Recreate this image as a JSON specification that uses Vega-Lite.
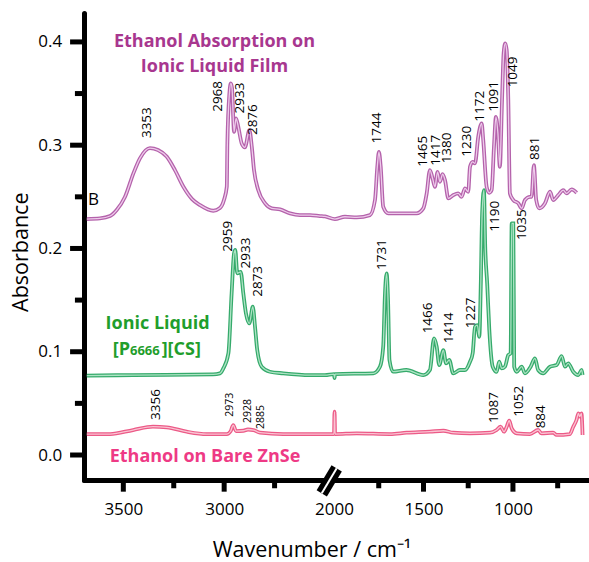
{
  "$schema": "https://vega.github.io/schema/vega-lite/v6.json",
  "width": 505,
  "height": 467,
  "autosize": {"type": "none"},
  "padding": {"left": 84, "top": 13, "right": 0, "bottom": 82},
  "background": "white",
  "config": {"view": {"stroke": null}},
  "datasets": {
    "spectra": [
      {"s":"film","wn":3681,"a":0.2285},{"s":"film","wn":3616,"a":0.2291},{"s":"film","wn":3566,"a":0.2314},{"s":"film","wn":3533,"a":0.2372},{"s":"film","wn":3492,"a":0.2498},{"s":"film","wn":3450,"a":0.2727},{"s":"film","wn":3417,"a":0.2875},{"s":"film","wn":3368,"a":0.2972},{"s":"film","wn":3328,"a":0.2953},{"s":"film","wn":3285,"a":0.2890},{"s":"film","wn":3244,"a":0.2759},{"s":"film","wn":3202,"a":0.2597},{"s":"film","wn":3159,"a":0.2478},{"s":"film","wn":3120,"a":0.2420},{"s":"film","wn":3054,"a":0.2365},{"s":"film","wn":3021,"a":0.2391},{"s":"film","wn":3001,"a":0.2469},{"s":"film","wn":2987,"a":0.2597},{"s":"film","wn":2984,"a":0.3020},{"s":"film","wn":2974,"a":0.3501},{"s":"film","wn":2967,"a":0.3598},{"s":"film","wn":2961,"a":0.3553},{"s":"film","wn":2951,"a":0.3130},{"s":"film","wn":2941,"a":0.3259},{"s":"film","wn":2930,"a":0.3178},{"s":"film","wn":2913,"a":0.3017},{"s":"film","wn":2897,"a":0.2979},{"s":"film","wn":2875,"a":0.3146},{"s":"film","wn":2863,"a":0.2985},{"s":"film","wn":2852,"a":0.2759},{"s":"film","wn":2831,"a":0.2565},{"s":"film","wn":2797,"a":0.2437},{"s":"film","wn":2764,"a":0.2388},{"s":"film","wn":2723,"a":0.2378},{"s":"film","wn":2673,"a":0.2339},{"s":"film","wn":2624,"a":0.2323},{"s":"film","wn":2574,"a":0.2323},{"s":"film","wn":2525,"a":0.2314},{"s":"film","wn":2500,"a":0.2310},{"s":"film","wn":1995,"a":0.2285},{"s":"film","wn":1939,"a":0.2307},{"s":"film","wn":1873,"a":0.2301},{"s":"film","wn":1799,"a":0.2323},{"s":"film","wn":1771,"a":0.2469},{"s":"film","wn":1758,"a":0.2791},{"s":"film","wn":1749,"a":0.2936},{"s":"film","wn":1739,"a":0.2791},{"s":"film","wn":1725,"a":0.2404},{"s":"film","wn":1697,"a":0.2340},{"s":"film","wn":1613,"a":0.2340},{"s":"film","wn":1538,"a":0.2340},{"s":"film","wn":1501,"a":0.2388},{"s":"film","wn":1482,"a":0.2533},{"s":"film","wn":1464,"a":0.2759},{"s":"film","wn":1449,"a":0.2678},{"s":"film","wn":1436,"a":0.2597},{"s":"film","wn":1421,"a":0.2742},{"s":"film","wn":1408,"a":0.2646},{"s":"film","wn":1393,"a":0.2720},{"s":"film","wn":1380,"a":0.2662},{"s":"film","wn":1361,"a":0.2485},{"s":"film","wn":1333,"a":0.2517},{"s":"film","wn":1306,"a":0.2533},{"s":"film","wn":1287,"a":0.2500},{"s":"film","wn":1268,"a":0.2582},{"s":"film","wn":1250,"a":0.2549},{"s":"film","wn":1240,"a":0.2791},{"s":"film","wn":1225,"a":0.2839},{"s":"film","wn":1212,"a":0.2824},{"s":"film","wn":1194,"a":0.3081},{"s":"film","wn":1175,"a":0.3211},{"s":"film","wn":1166,"a":0.3049},{"s":"film","wn":1147,"a":0.2597},{"s":"film","wn":1132,"a":0.2539},{"s":"film","wn":1119,"a":0.2565},{"s":"film","wn":1106,"a":0.2985},{"s":"film","wn":1095,"a":0.3275},{"s":"film","wn":1084,"a":0.3114},{"s":"film","wn":1073,"a":0.2791},{"s":"film","wn":1061,"a":0.3437},{"s":"film","wn":1052,"a":0.3889},{"s":"film","wn":1043,"a":0.3986},{"s":"film","wn":1035,"a":0.3921},{"s":"film","wn":1026,"a":0.3437},{"s":"film","wn":1017,"a":0.2533},{"s":"film","wn":998,"a":0.2469},{"s":"film","wn":970,"a":0.2437},{"s":"film","wn":951,"a":0.2388},{"s":"film","wn":933,"a":0.2469},{"s":"film","wn":905,"a":0.2500},{"s":"film","wn":896,"a":0.2500},{"s":"film","wn":883,"a":0.2807},{"s":"film","wn":870,"a":0.2469},{"s":"film","wn":853,"a":0.2388},{"s":"film","wn":821,"a":0.2437},{"s":"film","wn":793,"a":0.2549},{"s":"film","wn":775,"a":0.2469},{"s":"film","wn":747,"a":0.2517},{"s":"film","wn":719,"a":0.2565},{"s":"film","wn":700,"a":0.2533},{"s":"film","wn":672,"a":0.2572},{"s":"film","wn":644,"a":0.2539},
      {"s":"il","wn":3681,"a":0.0768},{"s":"il","wn":3452,"a":0.0774},{"s":"il","wn":3055,"a":0.0781},{"s":"il","wn":3021,"a":0.0791},{"s":"il","wn":3004,"a":0.0839},{"s":"il","wn":2979,"a":0.0985},{"s":"il","wn":2963,"a":0.1565},{"s":"il","wn":2951,"a":0.1953},{"s":"il","wn":2945,"a":0.1985},{"s":"il","wn":2935,"a":0.1759},{"s":"il","wn":2918,"a":0.1774},{"s":"il","wn":2905,"a":0.1565},{"s":"il","wn":2892,"a":0.1372},{"s":"il","wn":2875,"a":0.1275},{"s":"il","wn":2858,"a":0.1436},{"s":"il","wn":2847,"a":0.1242},{"s":"il","wn":2836,"a":0.1016},{"s":"il","wn":2814,"a":0.0855},{"s":"il","wn":2773,"a":0.0806},{"s":"il","wn":2707,"a":0.0791},{"s":"il","wn":2574,"a":0.0774},{"s":"il","wn":2500,"a":0.0774},{"s":"il","wn":2000,"a":0.0784},{"s":"il","wn":1997,"a":0.0745},{"s":"il","wn":1994,"a":0.0784},{"s":"il","wn":1780,"a":0.0791},{"s":"il","wn":1743,"a":0.0855},{"s":"il","wn":1725,"a":0.1048},{"s":"il","wn":1715,"a":0.1565},{"s":"il","wn":1706,"a":0.1759},{"s":"il","wn":1698,"a":0.1500},{"s":"il","wn":1690,"a":0.0920},{"s":"il","wn":1670,"a":0.0807},{"s":"il","wn":1596,"a":0.0823},{"s":"il","wn":1501,"a":0.0774},{"s":"il","wn":1464,"a":0.0823},{"s":"il","wn":1441,"a":0.1130},{"s":"il","wn":1426,"a":0.1048},{"s":"il","wn":1412,"a":0.0871},{"s":"il","wn":1389,"a":0.1016},{"s":"il","wn":1374,"a":0.0888},{"s":"il","wn":1356,"a":0.0920},{"s":"il","wn":1334,"a":0.0791},{"s":"il","wn":1296,"a":0.0823},{"s":"il","wn":1268,"a":0.0823},{"s":"il","wn":1240,"a":0.0903},{"s":"il","wn":1225,"a":0.0985},{"s":"il","wn":1212,"a":0.1242},{"s":"il","wn":1199,"a":0.1258},{"s":"il","wn":1188,"a":0.1145},{"s":"il","wn":1180,"a":0.1629},{"s":"il","wn":1172,"a":0.2340},{"s":"il","wn":1162,"a":0.2565},{"s":"il","wn":1155,"a":0.2016},{"s":"il","wn":1144,"a":0.1662},{"s":"il","wn":1132,"a":0.1210},{"s":"il","wn":1113,"a":0.0855},{"s":"il","wn":1091,"a":0.0806},{"s":"il","wn":1077,"a":0.0903},{"s":"il","wn":1063,"a":0.0839},{"s":"il","wn":1045,"a":0.0855},{"s":"il","wn":1026,"a":0.0968},{"s":"il","wn":1013,"a":0.0985},{"s":"il","wn":1007,"a":0.2243},{"s":"il","wn":998,"a":0.2243},{"s":"il","wn":993,"a":0.0855},{"s":"il","wn":979,"a":0.0806},{"s":"il","wn":951,"a":0.0855},{"s":"il","wn":933,"a":0.0791},{"s":"il","wn":901,"a":0.0855},{"s":"il","wn":877,"a":0.0936},{"s":"il","wn":859,"a":0.0823},{"s":"il","wn":831,"a":0.0791},{"s":"il","wn":793,"a":0.0855},{"s":"il","wn":756,"a":0.0871},{"s":"il","wn":728,"a":0.0958},{"s":"il","wn":709,"a":0.0855},{"s":"il","wn":691,"a":0.0888},{"s":"il","wn":663,"a":0.0806},{"s":"il","wn":635,"a":0.0774},{"s":"il","wn":616,"a":0.0823},{"s":"il","wn":611,"a":0.0774},
      {"s":"bare","wn":3681,"a":0.0203},{"s":"bare","wn":3566,"a":0.0203},{"s":"bare","wn":3452,"a":0.0242},{"s":"bare","wn":3353,"a":0.0274},{"s":"bare","wn":3285,"a":0.0268},{"s":"bare","wn":3186,"a":0.0226},{"s":"bare","wn":3087,"a":0.0203},{"s":"bare","wn":2987,"a":0.0203},{"s":"bare","wn":2968,"a":0.0230},{"s":"bare","wn":2955,"a":0.0290},{"s":"bare","wn":2941,"a":0.0232},{"s":"bare","wn":2905,"a":0.0235},{"s":"bare","wn":2882,"a":0.0247},{"s":"bare","wn":2855,"a":0.0242},{"s":"bare","wn":2822,"a":0.0216},{"s":"bare","wn":2707,"a":0.0203},{"s":"bare","wn":2574,"a":0.0203},{"s":"bare","wn":2500,"a":0.0203},{"s":"bare","wn":2000,"a":0.0203},{"s":"bare","wn":1997,"a":0.0420},{"s":"bare","wn":1994,"a":0.0203},{"s":"bare","wn":1873,"a":0.0210},{"s":"bare","wn":1687,"a":0.0203},{"s":"bare","wn":1594,"a":0.0216},{"s":"bare","wn":1464,"a":0.0226},{"s":"bare","wn":1389,"a":0.0235},{"s":"bare","wn":1334,"a":0.0216},{"s":"bare","wn":1240,"a":0.0210},{"s":"bare","wn":1128,"a":0.0216},{"s":"bare","wn":1091,"a":0.0242},{"s":"bare","wn":1069,"a":0.0274},{"s":"bare","wn":1050,"a":0.0226},{"s":"bare","wn":1035,"a":0.0274},{"s":"bare","wn":1021,"a":0.0332},{"s":"bare","wn":1007,"a":0.0258},{"s":"bare","wn":979,"a":0.0210},{"s":"bare","wn":905,"a":0.0203},{"s":"bare","wn":859,"a":0.0242},{"s":"bare","wn":841,"a":0.0210},{"s":"bare","wn":775,"a":0.0216},{"s":"bare","wn":756,"a":0.0194},{"s":"bare","wn":682,"a":0.0203},{"s":"bare","wn":663,"a":0.0274},{"s":"bare","wn":645,"a":0.0339},{"s":"bare","wn":634,"a":0.0404},{"s":"bare","wn":627,"a":0.0371},{"s":"bare","wn":617,"a":0.0404},{"s":"bare","wn":611,"a":0.0194}
    ],
    "peaks": [
      {"wn":3384,"a":0.3069,"t":"3353"},{"wn":3029,"a":0.3323,"t":"2968"},{"wn":2921,"a":0.3308,"t":"2933"},{"wn":2857,"a":0.3098,"t":"2876"},
      {"wn":1758,"a":0.3017,"t":"1744"},{"wn":1501,"a":0.2791,"t":"1465"},{"wn":1432,"a":0.2801,"t":"1417"},{"wn":1370,"a":0.2824,"t":"1380"},{"wn":1259,"a":0.2888,"t":"1230"},{"wn":1184,"a":0.3227,"t":"1172"},{"wn":1106,"a":0.3323,"t":"1091"},{"wn":1002,"a":0.3560,"t":"1049"},{"wn":877,"a":0.2856,"t":"881"},
      {"wn":2979,"a":0.1968,"t":"2959"},{"wn":2892,"a":0.1807,"t":"2933"},{"wn":2831,"a":0.1532,"t":"2873"},{"wn":1734,"a":0.1791,"t":"1731"},{"wn":1473,"a":0.1178,"t":"1466"},{"wn":1356,"a":0.1081,"t":"1414"},{"wn":1235,"a":0.1227,"t":"1227"},{"wn":1099,"a":0.2162,"t":"1190"},{"wn":951,"a":0.2081,"t":"1035"},
      {"wn":3339,"a":0.0339,"t":"3356"},{"wn":1106,"a":0.0310,"t":"1087"},{"wn":965,"a":0.0371,"t":"1052"},{"wn":845,"a":0.0258,"t":"884"}
    ],
    "peaksSmall": [
      {"wn":2971,"a":0.0371,"t":"2973"},{"wn":2882,"a":0.0310,"t":"2928"},{"wn":2817,"a":0.0252,"t":"2885"}
    ],
    "brk": [{"wn":2516,"wn2":1985,"a":-0.0371,"a2":-0.0129}],
    "ticks": [
      {"wn":3500,"wn2":3500,"a":-0.0242,"a2":-0.0355},
      {"wn":3000,"wn2":3000,"a":-0.0242,"a2":-0.0355},
      {"wn":1500,"wn2":1500,"a":-0.0242,"a2":-0.0355},
      {"wn":1000,"wn2":1000,"a":-0.0242,"a2":-0.0355},
      {"wn":3250,"wn2":3250,"a":-0.0242,"a2":-0.0322},
      {"wn":2750,"wn2":2750,"a":-0.0242,"a2":-0.0322},
      {"wn":1750,"wn2":1750,"a":-0.0242,"a2":-0.0322},
      {"wn":1250,"wn2":1250,"a":-0.0242,"a2":-0.0322},
      {"wn":750,"wn2":750,"a":-0.0242,"a2":-0.0322},
      {"wn":3695,"wn2":3764,"a":0,"a2":0},
      {"wn":3695,"wn2":3764,"a":0.1,"a2":0.1},
      {"wn":3695,"wn2":3764,"a":0.2,"a2":0.2},
      {"wn":3695,"wn2":3764,"a":0.3,"a2":0.3},
      {"wn":3695,"wn2":3764,"a":0.4,"a2":0.4},
      {"wn":3695,"wn2":3740,"a":0.05,"a2":0.05},
      {"wn":3695,"wn2":3740,"a":0.15,"a2":0.15},
      {"wn":3695,"wn2":3740,"a":0.25,"a2":0.25},
      {"wn":3695,"wn2":3740,"a":0.35,"a2":0.35}
    ]
  },
  "encoding": {
    "x": {
      "field": "wn", "type": "quantitative",
      "scale": {"domain": [3695, 2500, 2000, 575], "range": [0, 241, 250, 505], "nice": false, "zero": false},
      "axis": {
        "values": [3500, 3000, 2000, 1500, 1000],
        "labelExpr": "'' + datum.value",
        "ticks": true, "tickSize": 9, "tickColor": "transparent",
        "domainWidth": 5, "domainColor": "black", "domainCap": "round",
        "labelFont": "Open Sans", "labelFontSize": 17, "labelColor": "black", "labelPadding": 12,
        "labelFlush": false, "labelOverlap": false, "grid": false,
        "title": "Wavenumber / cm⁻¹", "titleFont": "Open Sans", "titleFontSize": 21.5, "titleFontWeight": "normal", "titleColor": "black",
        "titleX": 227.5, "titleY": 76.7, "titleBaseline": "alphabetic", "titleAlign": "center"
      }
    },
    "y": {
      "field": "a", "type": "quantitative",
      "scale": {"domain": [-0.0242, 0.428], "nice": false, "zero": false},
      "axis": {
        "values": [0, 0.1, 0.2, 0.3, 0.4],
        "format": ".1f",
        "ticks": true, "tickSize": 11.5, "tickColor": "transparent",
        "domainWidth": 5, "domainColor": "black", "domainCap": "round",
        "labelFont": "Open Sans", "labelFontSize": 17, "labelColor": "black", "labelPadding": 10.8,
        "labelFlush": false, "labelOverlap": false, "grid": false,
        "title": "Absorbance", "titleFont": "Open Sans", "titleFontSize": 21.5, "titleFontWeight": "normal", "titleColor": "black",
        "titleX": -57, "titleY": 238.7, "titleAngle": 270, "titleBaseline": "alphabetic", "titleAlign": "center"
      }
    }
  },
  "layer": [
    {
      "data": {"name": "spectra"},
      "mark": {"type": "line", "strokeWidth": 3.8, "interpolate": "monotone"},
      "encoding": {
        "color": {"field": "s", "type": "nominal", "legend": null,
          "scale": {"domain": ["film", "il", "bare"], "range": ["#b462ab", "#35aa6b", "#ec5a87"]}},
        "detail": {"field": "s"}
      }
    },
    {
      "data": {"name": "spectra"},
      "mark": {"type": "line", "strokeWidth": 1.3, "interpolate": "monotone"},
      "encoding": {
        "color": {"field": "s", "type": "nominal", "legend": null,
          "scale": {"domain": ["film", "il", "bare"], "range": ["#eecbeb", "#ade3c4", "#fac4d3"]}},
        "detail": {"field": "s"}
      }
    },
    {
      "data": {"name": "ticks"},
      "mark": {"type": "rule", "color": "black", "strokeWidth": 5, "strokeCap": "butt"},
      "encoding": {"x2": {"field": "wn2"}, "y2": {"field": "a2"}}
    },
    {
      "data": {"name": "brk"},
      "mark": {"type": "rule", "color": "black", "strokeWidth": 12, "strokeCap": "butt"},
      "encoding": {"x2": {"field": "wn2"}, "y2": {"field": "a2"}}
    },
    {
      "data": {"name": "brk"},
      "mark": {"type": "rule", "color": "white", "strokeWidth": 2, "strokeCap": "butt"},
      "encoding": {"x2": {"field": "wn2"}, "y2": {"field": "a2"}}
    },
    {
      "data": {"name": "peaks"},
      "mark": {"type": "text", "angle": 270, "align": "left", "baseline": "middle", "font": "Open Sans", "fontSize": 13.5, "color": "black"},
      "encoding": {"text": {"field": "t", "type": "nominal"}}
    },
    {
      "data": {"name": "peaksSmall"},
      "mark": {"type": "text", "angle": 270, "align": "left", "baseline": "middle", "font": "Open Sans", "fontSize": 10.5, "color": "black"},
      "encoding": {"text": {"field": "t", "type": "nominal"}}
    },
    {
      "data": {"values": [{"wn": 3048, "a": 0.3950, "t": ["Ethanol Absorption on", "Ionic Liquid Film"]}]},
      "mark": {"type": "text", "align": "center", "baseline": "alphabetic", "font": "Open Sans", "fontSize": 18, "fontWeight": "bold", "color": "#a8378f", "lineHeight": 25},
      "encoding": {"text": {"field": "t"}}
    },
    {
      "data": {"values": [{"wn": 3330, "a": 0.1217, "t": "Ionic Liquid"}]},
      "mark": {"type": "text", "align": "center", "baseline": "alphabetic", "font": "Open Sans", "fontSize": 18, "fontWeight": "bold", "color": "#1f9e2c"},
      "encoding": {"text": {"field": "t"}}
    },
    {
      "data": {"values": [{"wn": 3467, "a": 0.0968, "t": "[P"}]},
      "mark": {"type": "text", "align": "right", "baseline": "alphabetic", "font": "Open Sans", "fontSize": 18, "fontWeight": "bold", "color": "#1f9e2c"},
      "encoding": {"text": {"field": "t"}}
    },
    {
      "data": {"values": [{"wn": 3467, "a": 0.0968, "t": "6666"}]},
      "mark": {"type": "text", "align": "left", "baseline": "alphabetic", "font": "Open Sans", "fontSize": 13, "fontWeight": "bold", "color": "#1f9e2c"},
      "encoding": {"text": {"field": "t"}}
    },
    {
      "data": {"values": [{"wn": 3310, "a": 0.0968, "t": "][CS]"}]},
      "mark": {"type": "text", "align": "left", "baseline": "alphabetic", "font": "Open Sans", "fontSize": 18, "fontWeight": "bold", "color": "#1f9e2c"},
      "encoding": {"text": {"field": "t"}}
    },
    {
      "data": {"values": [{"wn": 3095, "a": -0.0065, "t": "Ethanol on Bare ZnSe"}]},
      "mark": {"type": "text", "align": "center", "baseline": "alphabetic", "font": "Open Sans", "fontSize": 18, "fontWeight": "bold", "color": "#ee3a85"},
      "encoding": {"text": {"field": "t"}}
    },
    {
      "data": {"values": [{"wn": 3675, "a": 0.2420, "t": "B"}]},
      "mark": {"type": "text", "align": "left", "baseline": "alphabetic", "font": "Open Sans", "fontSize": 17, "color": "black"},
      "encoding": {"text": {"field": "t"}}
    }
  ],
  "resolve": {"scale": {"color": "independent"}}
}
